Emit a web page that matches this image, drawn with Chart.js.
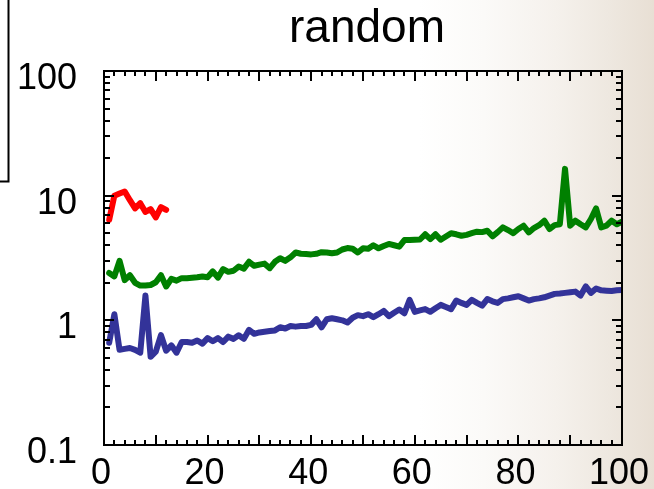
<!DOCTYPE html>
<html><head><meta charset="utf-8">
<script src="https://cdn.jsdelivr.net/npm/chart.js@4"></script>
<style>
html,body{margin:0;padding:0;width:654px;height:489px;overflow:hidden;}
body{background:linear-gradient(to right,#ffffff 0%,#ffffff 64%,#fbfaf8 74%,#f5f1ec 85%,#eee8e0 93%,#e8dfd4 100%);}
#wrap{position:relative;width:654px;height:489px;}
</style></head><body>
<div id="wrap"><canvas id="c" width="654" height="489"></canvas></div>
<script>
const titleText = 'random';
const xTickLabels = [0, 20, 40, 60, 80, 100];
const yTickLabels = [0.1, 1, 10, 100];
const redValues = [6.4, 10.0, 10.4, 10.8, 9.2, 7.9, 8.7, 7.4, 7.8, 6.7, 8.1, 7.7];
const greenValues = [
  2.4, 2.25, 3.0, 2.1, 2.3, 2.0, 1.9, 1.9, 1.92, 2.02,
  2.3, 1.87, 2.15, 2.08, 2.18, 2.18, 2.2, 2.22, 2.25, 2.22,
  2.47, 2.2, 2.58, 2.45, 2.5, 2.7, 2.6, 2.95, 2.74, 2.8,
  2.85, 2.62, 2.95, 3.15, 3.0, 3.2, 3.5, 3.42, 3.4, 3.38,
  3.42, 3.52, 3.5, 3.45, 3.5, 3.7, 3.8, 3.75, 3.5, 3.78,
  3.75, 4.0, 3.78, 3.95, 4.1, 4.0, 3.9, 4.4, 4.4, 4.43,
  4.45, 4.9, 4.48, 4.9, 4.43, 4.7, 5.0, 4.9, 4.77, 4.85,
  5.0, 5.14, 5.1, 5.23, 4.72, 5.1, 5.57, 5.3, 5.0, 5.4,
  5.74, 5.07, 5.5, 5.8, 6.3, 5.4, 5.8, 5.9, 16.4, 5.74,
  6.3, 5.9, 5.57, 6.5, 7.9, 5.57, 5.74, 6.3, 5.9, 6.2
];
const blueValues = [
  0.66, 1.12, 0.58, 0.59, 0.60, 0.58, 0.55, 1.58, 0.51, 0.56,
  0.76, 0.57, 0.63, 0.55, 0.67, 0.67, 0.66, 0.69, 0.65, 0.72,
  0.68, 0.72, 0.67, 0.74, 0.71, 0.76, 0.71, 0.84, 0.78, 0.80,
  0.81, 0.82, 0.83, 0.88, 0.86, 0.90, 0.89, 0.90, 0.90, 0.92,
  1.02, 0.88, 1.02, 1.04, 1.02, 1.00, 0.96, 1.05, 1.10, 1.08,
  1.12, 1.06, 1.12, 1.19, 1.08, 1.15, 1.22, 1.14, 1.46, 1.17,
  1.20, 1.23, 1.17, 1.25, 1.33, 1.28, 1.23, 1.44, 1.38, 1.33,
  1.46, 1.38, 1.31, 1.48, 1.42, 1.38, 1.48, 1.50, 1.53, 1.56,
  1.50, 1.44, 1.48, 1.50, 1.53, 1.58, 1.63, 1.64, 1.66, 1.68,
  1.70, 1.58, 1.87, 1.66, 1.80, 1.74, 1.73, 1.72, 1.74, 1.75
];
const xMinorStep = 2, xMajorStep = 10;

const toPoints = arr => arr.map((v, i) => ({ x: i + 1, y: v }));
const FONT = '"Liberation Sans", Arial, sans-serif';

const framePlugin = {
  id: 'frame',
  afterDraw(chart) {
    const { ctx, chartArea: a, scales } = chart;
    const xs = scales.x, ys = scales.y;
    ctx.save();
    ctx.strokeStyle = '#000';
    ctx.lineWidth = 2;
    ctx.strokeRect(a.left, a.top, a.right - a.left, a.bottom - a.top);
    ctx.beginPath();
    for (let v = xs.min; v <= xs.max + 1e-9; v += xMinorStep) {
      const px = Math.round(xs.getPixelForValue(v));
      const len = (Math.abs(v % xMajorStep) < 1e-9) ? 10 : 5;
      ctx.moveTo(px, a.bottom); ctx.lineTo(px, a.bottom - len);
      ctx.moveTo(px, a.top); ctx.lineTo(px, a.top + len);
    }
    for (let d = -1; d < 2; d++) {
      for (let m = 1; m <= 10; m++) {
        const v = m * Math.pow(10, d);
        if (v < ys.min - 1e-12 || v > ys.max + 1e-9) continue;
        const py = Math.round(ys.getPixelForValue(v));
        const len = (m === 1 || m === 10) ? 10 : 6;
        ctx.moveTo(a.left, py); ctx.lineTo(a.left + len, py);
        ctx.moveTo(a.right, py); ctx.lineTo(a.right - len, py);
      }
    }
    ctx.stroke();
    ctx.strokeRect(-10, -10, 18.5, 191.5);
    ctx.fillStyle = '#000';
    ctx.font = '46px ' + FONT;
    ctx.textAlign = 'center';
    ctx.textBaseline = 'middle';
    ctx.fillText(titleText, (a.left + a.right) / 2 + 4, 29);
    ctx.restore();
  }
};

const lineStyle = { borderWidth: 6, pointRadius: 0, tension: 0, borderJoinStyle: 'round', borderCapStyle: 'round', fill: false };

new Chart(document.getElementById('c'), {
  type: 'line',
  data: {
    datasets: [
      Object.assign({ data: toPoints(redValues), borderColor: '#ff0000' }, lineStyle),
      Object.assign({ data: toPoints(greenValues), borderColor: '#008000' }, lineStyle),
      Object.assign({ data: toPoints(blueValues), borderColor: '#333399' }, lineStyle)
    ]
  },
  options: {
    responsive: false,
    animation: false,
    devicePixelRatio: 1,
    layout: { padding: { left: 0, right: 32, top: 71, bottom: 0 } },
    plugins: { legend: { display: false }, title: { display: false }, tooltip: { enabled: false } },
    scales: {
      x: {
        type: 'linear', min: 0, max: 100,
        grid: { display: false, drawTicks: false },
        border: { display: false },
        afterBuildTicks: s => { s.ticks = xTickLabels.map(v => ({ value: v })); },
        afterFit: s => { s.height = 44; s.paddingLeft = 0; s.paddingRight = 0; },
        ticks: { color: '#000', font: { family: FONT, size: 36 }, padding: 7, labelOffset: -3, maxRotation: 0, autoSkip: false, callback: v => String(v) }
      },
      y: {
        type: 'logarithmic', min: 0.1, max: 100,
        grid: { display: false, drawTicks: false },
        border: { display: false },
        afterBuildTicks: s => { s.ticks = yTickLabels.map(v => ({ value: v })); },
        afterFit: s => { s.width = 104; s.paddingTop = 0; s.paddingBottom = 0; },
        ticks: { color: '#000', font: { family: FONT, size: 36 }, padding: 27, labelOffset: 8, autoSkip: false, callback: v => String(v) }
      }
    }
  },
  plugins: [framePlugin]
});
</script>
</body></html>
